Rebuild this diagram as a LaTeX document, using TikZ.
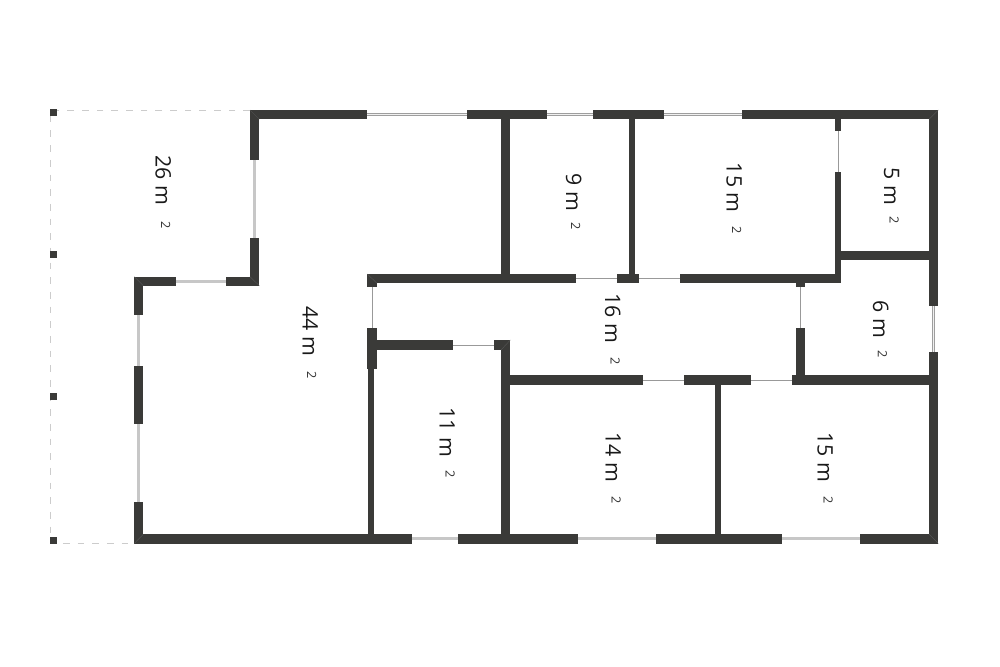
\documentclass[tikz,border=0pt]{standalone}
\usepackage{fontspec}
\setmainfont{Open Sans}
\definecolor{wallgray}{HTML}{3A3A38}
\tikzset{
    wall/.style = {fill = wallgray},
    post/.style = {fill = wallgray},
    mitre/.style = {draw = black!65, line width = .25pt},
    window/.style = {draw = black!22, line width = 2.2pt},
    glazing/.style = {draw = black!38, line width = .6pt, double = black!6, double distance = .9pt},
    door/.style = {draw = black!40, line width = .6pt},
    terrace/.style = {draw = black!20, line width = .5pt, dash pattern = on 5pt off 6pt},
    area/.style = {rotate = -90, anchor = base west, inner sep = 0pt, font = \fontsize{16}{16}\selectfont, text = black!90},
    unit/.style = {rotate = -90, anchor = base west, inner sep = 0pt, font = \fontsize{9.5}{10}\selectfont, text = black!80},
}
\begin{document}
\begin{tikzpicture}[x=.75pt, y=-.75pt]

    \useasboundingbox (0, 0) rectangle (1000, 667);

    \draw[terrace] (250, 110) -- (50.5, 110) -- (50.5, 543.5) -- (134.3, 543.5);

    \foreach \xa/\xb in {366.7/467.3, 547/592.7, 664/742}
        \draw[glazing] (\xa, 114.5) -- (\xb, 114.5);
    \draw[glazing] (933.7, 306) -- (933.7, 352.3);

    \foreach \xa/\xb in {412.3/458.3, 578/656, 781.7/860}
        \draw[window] (\xa, 538.7) -- (\xb, 538.7);
    \draw[window] (175.7, 281.3) -- (225.7, 281.3);
    \draw[window] (254.7, 160) -- (254.7, 238.3);
    \draw[window] (138.8, 315) -- (138.8, 365.7);
    \draw[window] (138.8, 424) -- (138.8, 502.3);

    \foreach \xa/\ya/\xb/\yb in {
        576.3/278.7/617.3/278.7, 639/278.7/680/278.7,
        453/345/494/345, 643.3/380/684.3/380, 751/380/792.3/380,
        372.5/286.7/372.5/327.7, 800.7/286.7/800.7/328, 838/130.7/838/172.3}
        \draw[door] (\xa, \ya) -- (\xb, \yb);

    \foreach \xa/\ya/\xb/\yb in {
        250/110/366.7/119.3, 467.3/110/547/119.3, 592.7/110/664/119.3, 742/110/938.3/119.3,
        250/110/259.3/160, 250/238.3/259.3/285.7, 225.7/276.7/259.3/285.7,
        134.3/276.7/175.7/285.7, 134.3/276.7/143.3/315, 134.3/365.7/143.3/424, 134.3/502.3/143.3/543.5,
        134.3/534.2/412.3/543.5, 458.3/534.2/578/543.5, 656/534.2/781.7/543.5, 860/534.2/938.3/543.5,
        500.7/119.3/510.3/274, 629.3/119.3/635.3/274,
        367.3/274/576.3/283.3, 367.3/283/377/286.7, 617.3/274/639/283.3, 680/274/841/283.3,
        835/119.3/841/130.7, 835/172.3/841/274, 841/251/929/260.3,
        929/110/938.3/306, 929/352.3/938.3/543.5,
        796/283/805.3/286.7, 796/328/805.3/375,
        367.3/327.7/377/369, 368/369/373.7/534.2, 377/340/453/350,
        494/340/510.3/350, 501/340/510.3/534.2, 510.3/375/643.3/384.5,
        684.3/375/751/384.5, 792.3/375/929/384.5, 715/384.5/721/534.2}
        \fill[wall] (\xa, \ya) rectangle (\xb, \yb);

    \foreach \xa/\ya/\xb/\yb in {
        250/110/259.3/119.3, 938.3/110/929/119.3, 134.3/276.7/143.3/285.7, 259.3/285.7/250/276.7,
        134.3/543.5/143.3/534.2, 938.3/543.5/929/534.2, 367.3/274/377/283.3, 510.3/340/501/350}
        \draw[mitre] (\xa, \ya) -- (\xb, \yb);

    \foreach \ya in {109.3, 251, 393, 536.7}
        \fill[post] (50, \ya) rectangle (57, \ya + 7.2);

    \foreach \xa/\ya/\xb/\yb/\size in {
        155.5/155/161/221/26, 302.5/306/307/371/44, 566/173.3/571/222.7/9,
        726.5/162.7/732.2/226.7/15, 884.2/167.3/889.5/216/5, 873.2/300.7/877.8/350.7/6,
        605.2/293.3/610.5/357.3/16, 439.5/407/445.5/470/11, 605.5/432/611.5/496/14, 817.5/432/823.5/496/15}
    {
        \node[area] (area\size\xa) at (\xa, \ya) {\size{} m};
        \node[unit] (unit\size\xa) at (\xb, \yb) {2};
    }

\end{tikzpicture}
\end{document}
